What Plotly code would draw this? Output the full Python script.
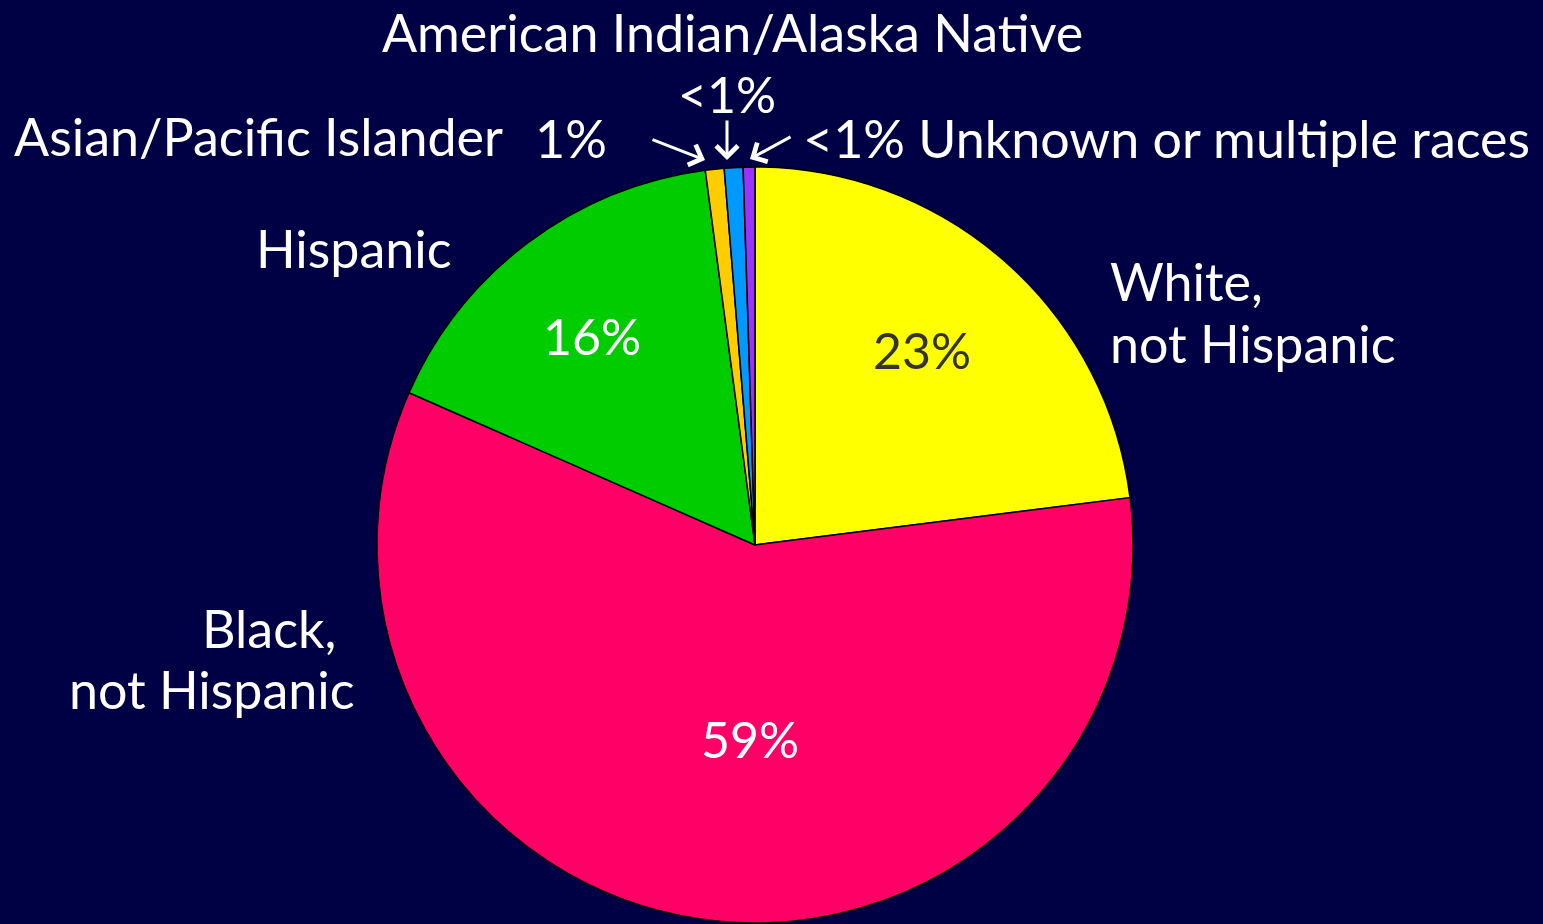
import plotly.graph_objects as go

W, H = 1543, 924

# slices, clockwise from 12 o'clock
groups = [
    "White, not Hispanic",
    "Black, not Hispanic",
    "Hispanic",
    "Asian/Pacific Islander",
    "American Indian/Alaska Native",
    "Unknown or multiple races",
]
shares = [23.0, 58.6, 16.3, 0.8, 0.8, 0.5]
slice_colors = ["#FFFF00", "#FF0066", "#00CC00", "#FFCC00", "#0099FF", "#9933FF"]

pct_text = ["23%", "59%", "16%"]
pct_color = ["#333333", "white", "white"]

BG = "#000044"
FONT = "Lato"
SIZE = 52


def px(x, y):
    """pixel position (from top-left) -> paper coords"""
    return x / W, 1 - y / H


cx, cy, r = 755, 545, 378
x0, y0 = px(cx - r, cy + r)
x1, y1 = px(cx + r, cy - r)

fig = go.Figure(
    go.Pie(
        labels=groups,
        values=shares,
        sort=False,
        direction="clockwise",
        rotation=0,
        marker=dict(colors=slice_colors, line=dict(color="black", width=1.5)),
        textinfo="none",
        hoverinfo="label+percent",
        domain=dict(x=[x0, x1], y=[y0, y1]),
        showlegend=False,
    )
)

anns = []


def label(text, x, y, anchor="center", size=SIZE, color="white"):
    ax_, ay_ = px(x, y)
    anns.append(dict(
        text=text, x=ax_, y=ay_, xref="paper", yref="paper",
        xanchor=anchor, yanchor="middle", showarrow=False,
        font=dict(family=FONT, size=size, color=color),
    ))


def arrow(x_tip, y_tip, x_tail, y_tail):
    ax_, ay_ = px(x_tip, y_tip)
    anns.append(dict(
        text="", x=ax_, y=ay_, xref="paper", yref="paper",
        ax=x_tail - x_tip, ay=y_tail - y_tip, axref="pixel", ayref="pixel",
        showarrow=True, arrowhead=4, arrowsize=1.4, arrowwidth=3,
        arrowcolor="white",
    ))


# outside labels
label("American Indian/Alaska Native", 732, 32)
label("<1%", 727, 94, size=50)
label("Asian/Pacific Islander", 12, 136, anchor="left")
label("1%", 571, 138)
label("<1% Unknown or multiple races", 1532, 138, anchor="right")
label("Hispanic", 454, 248, anchor="right")
label("White,", 1108, 281, anchor="left")
label("not Hispanic", 1108, 343, anchor="left")
label("Black,", 338, 628, anchor="right")
label("not Hispanic", 357, 689, anchor="right")

# percentages inside slices
label(pct_text[0], 922, 350, color=pct_color[0], size=50)
label(pct_text[2], 592, 336, color=pct_color[2], size=50)
label(pct_text[1], 750, 739, color=pct_color[1], size=50)

arrow(705, 160, 651, 139)
arrow(727, 160, 727, 119)
arrow(750, 159, 792, 136)

fig.update_layout(
    width=W,
    height=H,
    margin=dict(l=0, r=0, t=0, b=0),
    paper_bgcolor=BG,
    plot_bgcolor=BG,
    annotations=anns,
)

fig.write_html(
    "out.html",
    config={"displayModeBar": False},
    post_script="document.body.style.margin='0';",
)
